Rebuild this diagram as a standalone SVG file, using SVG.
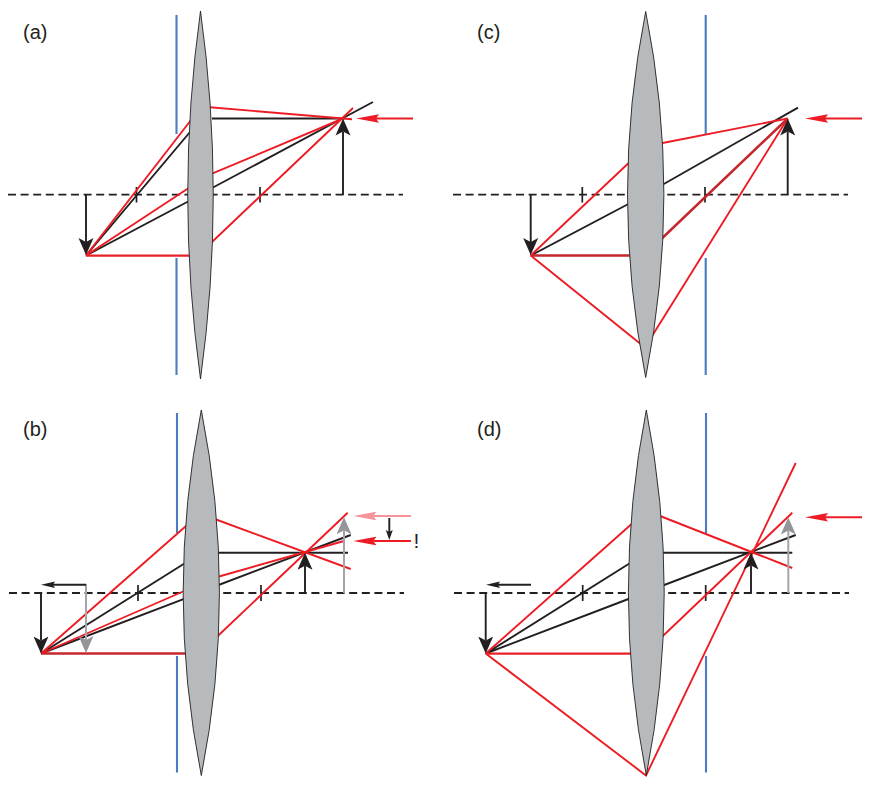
<svg xmlns="http://www.w3.org/2000/svg" width="871" height="787" viewBox="0 0 871 787">
<style>
.r{stroke:#ed1c24;stroke-width:1.9;fill:none}
.rh{stroke:#e8202a;stroke-width:2.2;fill:none}
.rd{stroke:#c4272d;stroke-width:2.5;fill:none}
.k{stroke:#231f20;stroke-width:1.9;fill:none}
.g{stroke:#a3a5a8;stroke-width:2;fill:none}
.p{stroke:#f4959b;stroke-width:2;fill:none}
.ra{stroke:#ed1c24;stroke-width:2;fill:none}
.b{stroke:#4a7cc0;stroke-width:2.1;fill:none}
.t{stroke:#231f20;stroke-width:1.7;fill:none}
.ax{stroke:#231f20;stroke-width:1.8;fill:none;stroke-dasharray:8 4.6}
.l{fill:#b7babd;stroke:#231f20;stroke-width:.9}
.ah{marker-end:url(#hk)}
.ag{marker-end:url(#hg)}
.ar{marker-end:url(#hr)}
.ap{marker-end:url(#hp)}
.as{marker-end:url(#hs)}
.at{marker-end:url(#ht)}
text{font-family:"Liberation Sans",Arial,sans-serif;font-size:20px;fill:#231f20}
</style>
<defs>
<marker id="hk" markerUnits="userSpaceOnUse" markerWidth="18" markerHeight="18" refX="4" refY="9" orient="auto"><path d="M17 9L0 1.5L4 9L0 16.5Z" fill="#231f20"/></marker>
<marker id="hg" markerUnits="userSpaceOnUse" markerWidth="18" markerHeight="18" refX="4" refY="9" orient="auto"><path d="M17 9L0 1.5L4 9L0 16.5Z" fill="#939598"/></marker>
<marker id="hr" markerUnits="userSpaceOnUse" markerWidth="24" markerHeight="10" refX="3" refY="5" orient="auto"><path d="M23 5L0 .8L3 5L0 9.2Z" fill="#ed1c24"/></marker>
<marker id="hp" markerUnits="userSpaceOnUse" markerWidth="24" markerHeight="10" refX="3" refY="5" orient="auto"><path d="M23 5L0 .8L3 5L0 9.2Z" fill="#f4959b"/></marker>
<marker id="hs" markerUnits="userSpaceOnUse" markerWidth="16" markerHeight="8" refX="2" refY="4" orient="auto"><path d="M14 4L0 .8L2 4L0 7.2Z" fill="#231f20"/></marker>
<marker id="ht" markerUnits="userSpaceOnUse" markerWidth="12" markerHeight="10" refX="2" refY="5" orient="auto"><path d="M10 5L0 1.5L2 5L0 8.5Z" fill="#231f20"/></marker>
</defs>

<g id="panel-a">
<text id="label-a" x="23" y="39">(a)</text>
<g id="connectors-a">
<path class="ax" d="M8 194.7H403"/>
<path class="t" d="M136.5 187V202.5M260 187V202.5"/>
<path class="b" d="M176.5 15V134M176.5 258V375"/>
<path class="k" d="M86 255.5L190 132M86 255.5L190 200.5M213 187.5L373 102M212 118.5H343"/>
<path class="rh" d="M86 255.7H191"/>
<path class="r" d="M86 255.5L191 120M86 255.5L191 186.5M210 107.3L352 119.2M212 173.7L343 118.5M212 242L353 108"/>
<path class="k ah" d="M86 194.7V242"/>
<path class="k ah" d="M343 194.7V131.5"/>
<path class="ra ar" d="M413 118.5H376"/>
</g>
<g id="lens-a"><path class="l" d="M200.5 11A1339 1339 0 0 1 200.5 379A1339 1339 0 0 1 200.5 11Z"/></g>
</g>

<g id="panel-b">
<text id="label-b" x="23" y="436">(b)</text>
<g id="connectors-b">
<path class="ax" d="M9 593H404"/>
<path class="t" d="M138 585V601M261 585V601"/>
<path class="b" d="M177 413V533M177 656V772.5"/>
<path class="k" d="M41 653.5L190 560M41 653.5L190 596.6M212 587.5L350.7 535M212 552.7H348"/>
<path class="rd" d="M41 653.5H190"/>
<path class="r" d="M41 653.5L190 522.5M41 653.5L190 588.5M212 518L350.7 569M212 578.5L344 541M212 641.5L347.7 512.7"/>
<path class="k ah" d="M41 593V640.5"/>
<path class="k ah" d="M305 593V565.7"/>
<path class="g ag" d="M86 584V640"/>
<path class="g ag" d="M344 593V530.3"/>
<path class="k as" d="M86 584.7H53"/>
<path class="p ap" d="M411 516H373.3"/>
<path class="ra ar" d="M411 541H373.3"/>
<path class="k at" d="M389.3 518V532"/>
</g>
<text id="bang" x="413.5" y="548" style="font-size:21px">!</text>
<g id="lens-b"><path class="l" d="M201.3 410A939 939 0 0 1 201.3 775.5A939 939 0 0 1 201.3 410Z"/></g>
</g>

<g id="panel-c">
<text id="label-c" x="477" y="39">(c)</text>
<g id="connectors-c">
<path class="ax" d="M453 194.7H848"/>
<path class="t" d="M582.3 187V202.5M705 187V202.5"/>
<path class="b" d="M705.7 15V134M705.7 258V375"/>
<path class="k" d="M530.7 255.5L635 200.5M655 189L798 107.7"/>
<path class="rd" d="M530.7 255.5H635M655 245L787.7 118.5"/>
<path class="r" d="M530.7 255.5L635 157M530.7 255.5L645 347.5M655 144.5L787.7 118.5M648 342.5L787.7 118.5"/>
<path class="k ah" d="M530.7 194.7V242"/>
<path class="k ah" d="M787.7 194.7V131.5"/>
<path class="ra ar" d="M862 118.5H825"/>
</g>
<g id="lens-c"><path class="l" d="M645.7 11.5A939 939 0 0 1 645.7 377.5A939 939 0 0 1 645.7 11.5Z"/></g>
</g>

<g id="panel-d">
<text id="label-d" x="477" y="436">(d)</text>
<g id="connectors-d">
<path class="ax" d="M454 593H849"/>
<path class="t" d="M582.7 585V601M705.7 585V601"/>
<path class="b" d="M706 413V533M706 656V772.5"/>
<path class="k" d="M485.7 653.5L635 560M485.7 653.5L635 596.5M655 588.5L795.7 535M655 552.7H792.3"/>
<path class="rh" d="M485.7 653.7H635"/>
<path class="r" d="M485.7 653.5L635 521M485.7 653.5L646 775.5L795.7 463M655 514L792.3 568M655 643.5L792.3 512.7"/>
<path class="k ah" d="M485.7 593V640.5"/>
<path class="k ah" d="M751 593V565.5"/>
<path class="g ag" d="M788.3 593V530.5"/>
<path class="k as" d="M531 584.7H498"/>
<path class="ra ar" d="M862 517.3H825"/>
</g>
<g id="lens-d"><path class="l" d="M646.3 410A950 950 0 0 1 646.3 775.5A950 950 0 0 1 646.3 410Z"/></g>
</g>
</svg>
